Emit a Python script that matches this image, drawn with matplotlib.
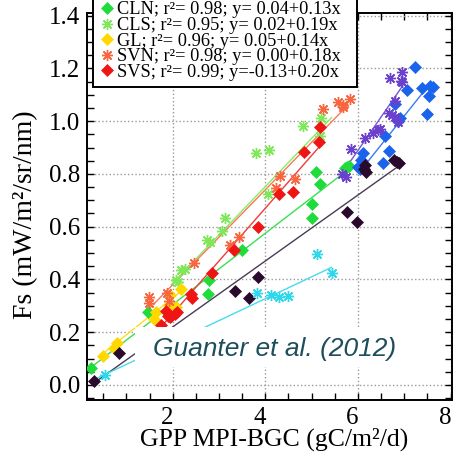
import matplotlib
matplotlib.use('Agg')
import matplotlib.pyplot as plt
import matplotlib.transforms as mtransforms
from matplotlib.patches import Rectangle
from matplotlib.ticker import MultipleLocator, FormatStrFormatter
import numpy as np

plt.rcParams['font.family'] = ['Liberation Serif', 'DejaVu Serif']

# GPP (x) and Fs (y) per site group
cln_x = [0.24, 1.47, 2.78, 2.77, 3.49, 5.00, 5.00, 5.10, 5.18, 5.72, 5.76, 5.81]
cln_y = [0.066, 0.278, 0.398, 0.344, 0.511, 0.687, 0.632, 0.806, 0.760, 0.823, 0.827, 0.830]

cls_x = [2.08, 2.11, 2.19, 2.26, 2.73, 2.80, 3.07, 3.12, 3.80, 4.08, 4.05, 4.82, 5.18, 5.20]
cls_y = [0.397, 0.390, 0.435, 0.440, 0.550, 0.543, 0.583, 0.632, 0.878, 0.890, 0.725, 0.982, 0.944, 1.012]

gl_x = [0.49, 0.73, 0.80, 1.59, 1.65, 1.91, 1.94, 2.08, 2.19]
gl_y = [0.111, 0.142, 0.158, 0.251, 0.277, 0.305, 0.342, 0.296, 0.362]

svn_x = [1.48, 1.48, 1.88, 1.93, 2.47, 3.23, 3.44, 4.24, 4.31, 4.64, 5.24, 5.57, 5.67, 5.68, 5.82]
svn_y = [0.333, 0.310, 0.347, 0.319, 0.464, 0.531, 0.562, 0.747, 0.793, 0.780, 1.045, 1.071, 1.061, 1.052, 1.084]

svs_x = [1.74, 1.86, 1.90, 1.94, 1.97, 2.04, 2.09, 2.40, 2.42, 2.84, 3.32, 3.84, 4.29, 4.60, 4.83, 5.16, 5.18]
svs_y = [0.229, 0.282, 0.263, 0.257, 0.263, 0.270, 0.276, 0.346, 0.329, 0.425, 0.511, 0.597, 0.725, 0.730, 0.882, 0.921, 0.976]

blue_x = [6.01, 6.04, 6.07, 6.11, 6.53, 6.58, 6.66, 6.80, 6.87, 6.91, 7.06, 7.23, 7.38, 7.50, 7.54, 7.56, 7.61]
blue_y = [0.826, 0.818, 0.852, 0.878, 0.840, 0.945, 0.887, 1.066, 1.001, 1.012, 1.119, 1.207, 1.127, 1.027, 1.095, 1.135, 1.131]

purple_x = [5.65, 5.74, 5.86, 6.15, 6.32, 6.44, 6.48, 6.66, 6.73, 6.79, 6.80, 6.87, 6.70, 6.92, 6.94, 6.94]
purple_y = [0.801, 0.789, 0.893, 0.938, 0.954, 0.968, 0.969, 1.030, 1.024, 1.078, 1.014, 0.998, 1.162, 1.154, 1.148, 1.188]

dark_x = [0.31, 0.85, 3.34, 3.65, 3.84, 5.77, 5.97, 6.13, 6.15, 6.17, 6.78, 6.85, 6.89]
dark_y = [0.015, 0.123, 0.356, 0.330, 0.408, 0.654, 0.618, 0.817, 0.833, 0.806, 0.853, 0.846, 0.842]

cyan_x = [0.53, 3.81, 4.12, 4.30, 4.50, 5.12, 5.45]
cyan_y = [0.038, 0.348, 0.340, 0.334, 0.338, 0.498, 0.425]

labels = ['CLN; r\u00b2= 0.98; y= 0.04+0.13x',
          'CLS; r\u00b2= 0.95; y= 0.02+0.19x',
          'GL; r\u00b2= 0.96; y= 0.05+0.14x',
          'SVN; r\u00b2= 0.98; y= 0.00+0.18x',
          'SVS; r\u00b2= 0.99; y=-0.13+0.20x',
          None, None, None, None]

# regression lines as drawn: intercept, slope, x range
fit_a = [0.035, 0.020, 0.050, 0.020, -0.130, -0.520, -0.635, -0.030, -0.005]
fit_b = [0.135, 0.183, 0.140, 0.180, 0.200, 0.220, 0.254, 0.125, 0.083]
fit_lo = [0.22, 1.97, 0.40, 1.50, 1.75, 6.04, 5.65, 0.31, 0.24]
fit_hi = [5.81, 5.43, 2.22, 5.78, 5.22, 7.52, 6.94, 6.87, 5.43]

xs_all = [cln_x, cls_x, gl_x, svn_x, svs_x, blue_x, purple_x, dark_x, cyan_x]
ys_all = [cln_y, cls_y, gl_y, svn_y, svs_y, blue_y, purple_y, dark_y, cyan_y]
markers = ['D', (8, 2, 0), 'D', (8, 2, 0), 'D', 'D', (8, 2, 0), 'D', (8, 2, 0)]
pt_colors = ['#1fdc3c', '#7fe85a', '#ffd800', '#f8653e', '#f01515',
             '#1a63ec', '#6a40cc', '#2a0a2c', '#2ed8ea']
ln_colors = ['#3ade50', '#88ec66', '#ffdc20', '#f87a55', '#ee3b3b',
             '#3a7cee', '#7a55d0', '#4a3b55', '#44dcee']

fig = plt.figure(figsize=(4.56, 4.55), dpi=100)
ax = fig.add_axes([87 / 456, 1 - 400 / 455, 365 / 456, 387 / 455])

for i in range(len(xs_all)):
    xx = np.array([fit_lo[i], fit_hi[i]])
    ax.plot(xx, fit_a[i] + fit_b[i] * xx, color=ln_colors[i], lw=1, zorder=2)
for i in range(len(xs_all)):
    star = markers[i] != 'D'
    ax.plot(xs_all[i], ys_all[i], ls='none', marker=markers[i],
            ms=8 if star else 5.8, color=pt_colors[i], mec=pt_colors[i],
            mew=1 if star else 0.5, zorder=3,
            label=labels[i] if labels[i] else '_nolegend_')

ax.set_xlim(0.15, 8.03)
ax.set_ylim(-0.057, 1.41)
ax.xaxis.set_major_locator(MultipleLocator(2))
ax.xaxis.set_minor_locator(MultipleLocator(0.5))
ax.yaxis.set_major_locator(MultipleLocator(0.2))
ax.yaxis.set_minor_locator(MultipleLocator(0.05))
ax.yaxis.set_major_formatter(FormatStrFormatter('%.1f'))
ax.tick_params(which='both', direction='in', top=True, right=True,
               length=5, width=1, labelsize=18)
ax.tick_params(axis='y', which='major', pad=5)
ax.tick_params(axis='x', which='major', pad=5)
ax.grid(True, which='major', ls=':', color='#9a9a9a', lw=1)
for s in ax.spines.values():
    s.set_linewidth(1.4)

shift = mtransforms.ScaledTranslation(-5.5 / 100, 0, fig.dpi_scale_trans)
for lab in ax.get_xticklabels():
    lab.set_transform(lab.get_transform() + shift)

ax.set_xlabel('GPP MPI-BGC (gC/m\u00b2/d)', fontsize=18.5)
ax.set_ylabel('Fs (mW/m\u00b2/sr/nm)', fontsize=20)
ax.xaxis.set_label_coords(0.512, -0.07)
ax.yaxis.set_label_coords(-0.135, 0.48)

ax.add_patch(Rectangle((0.1315, 0.085), 0.85, 0.104, transform=ax.transAxes,
                       facecolor='white', edgecolor='none', zorder=4))
ax.text(0.515, 0.132, 'Guanter et al. (2012)', transform=ax.transAxes,
        ha='center', va='center', fontsize=19, style='italic',
        family='Liberation Sans', color='#1e4d5c', zorder=5)

# legend box is cut by the top edge of the picture, as in the original
leg = ax.legend(loc='lower left', bbox_to_anchor=(0.0164, 0.809, 0.723, 0),
                mode='expand', borderaxespad=0, fontsize=13.2,
                labelspacing=-0.075, handlelength=0.9, handletextpad=0.1,
                borderpad=0.33, fancybox=False, framealpha=1,
                edgecolor='black')
leg.get_frame().set_linewidth(1.4)
leg.set_zorder(6)

fig.savefig('out.png', dpi=100)
